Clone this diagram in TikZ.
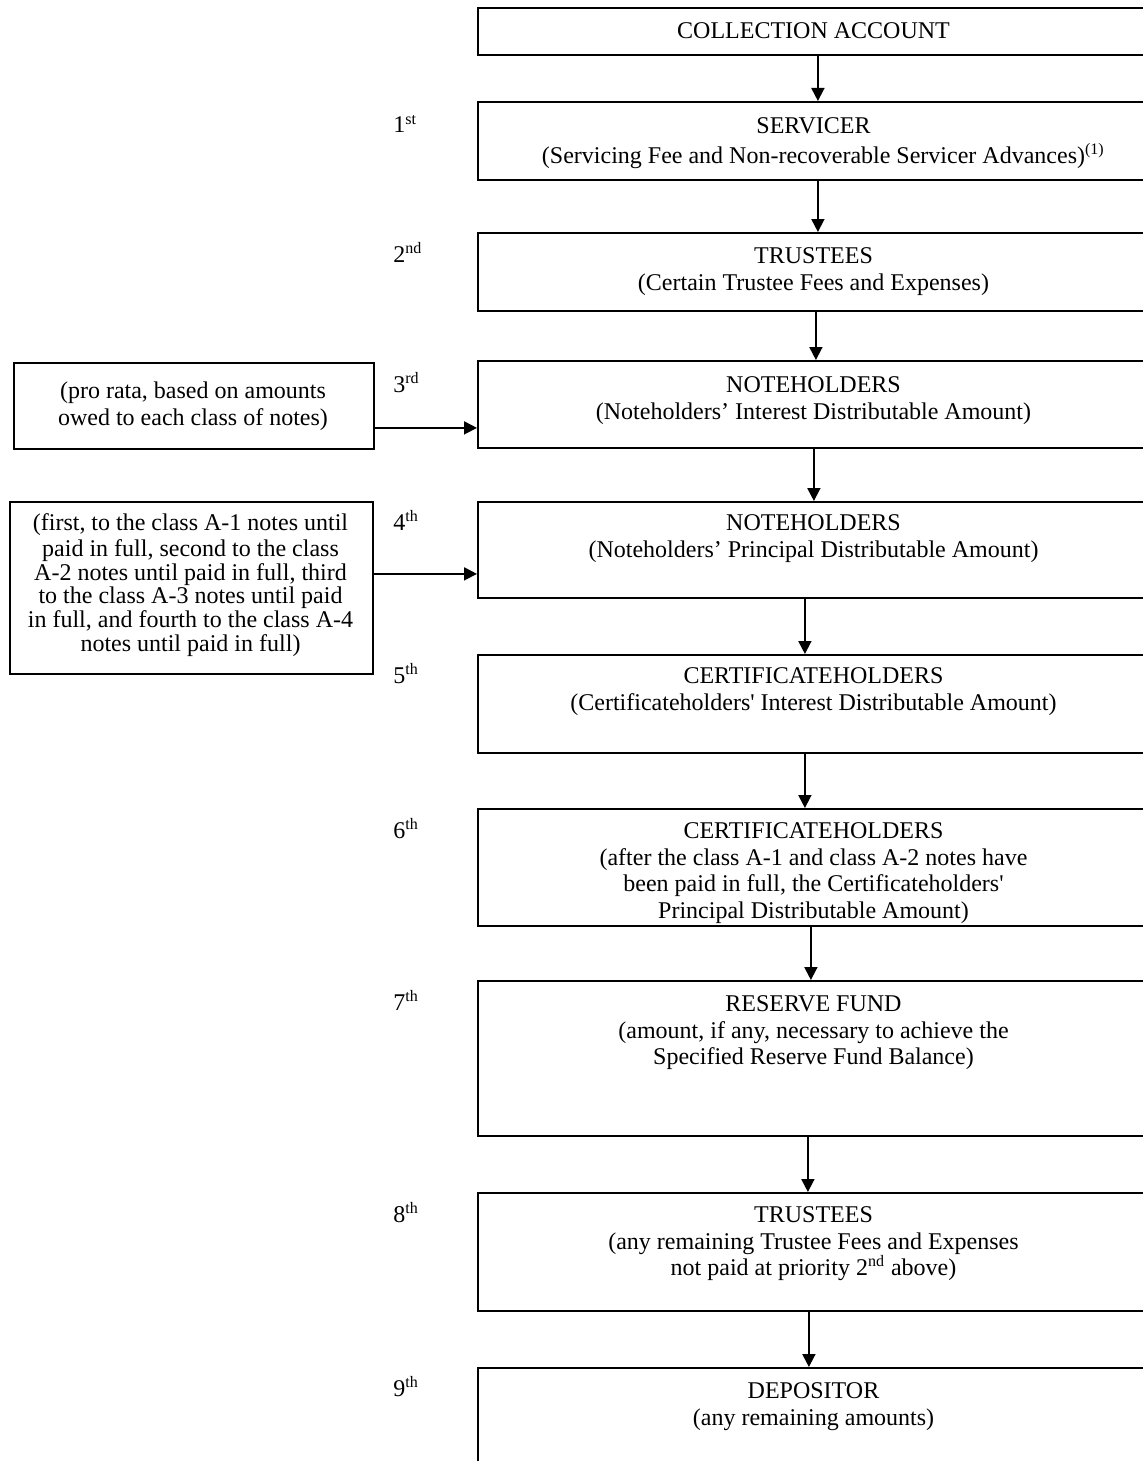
\documentclass[tikz,border=0pt]{standalone}
\usepackage{fontspec}
\setmainfont{Liberation Serif}[Ligatures=TeXOff]
\usetikzlibrary{arrows.meta}
\begin{document}
\begin{tikzpicture}[x=0.5pt,y=-0.5pt,
  box/.style={draw, line width=0.9pt, rectangle, inner sep=0pt, anchor=north west},
  mainbox/.style={box, minimum width=336.5pt},
  txt/.style={align=center, inner sep=0pt, anchor=north, font=\fontsize{12}{13.3}\selectfont},
  sidetxt/.style={align=center, inner sep=0pt, anchor=north, font=\fontsize{12}{11.8}\selectfont},
  arr/.style={line width=0.9pt, -{Triangle[length=6.5pt,width=6.5pt]}},
  ord/.style={anchor=base west, inner sep=0pt, font=\fontsize{12}{14}\selectfont}]

\fill[white] (0,0) rectangle (1143,1461);
\useasboundingbox (0,0) rectangle (1143,1461);
\clip (0,0) rectangle (1143,1461);

% main boxes
\node[mainbox, minimum height=23.5pt] (b0) at (477,7) {};
\node[mainbox, minimum height=39pt]   (b1) at (477,101) {};
\node[mainbox, minimum height=39pt]   (b2) at (477,232) {};
\node[mainbox, minimum height=43.5pt] (b3) at (477,360) {};
\node[mainbox, minimum height=48pt]   (b4) at (477,501) {};
\node[mainbox, minimum height=49pt]   (b5) at (477,654) {};
\node[mainbox, minimum height=58.5pt] (b6) at (477,808) {};
\node[mainbox, minimum height=77.5pt] (b7) at (477,980) {};
\node[mainbox, minimum height=59pt]   (b8) at (477,1192) {};
\node[mainbox, minimum height=66.5pt] (b9) at (477,1367) {};

% side boxes
\node[box, minimum width=180pt, minimum height=43pt] (lA) at (13,362) {};
\node[box, minimum width=181.5pt, minimum height=86pt] (lB) at (9,501) {};

% texts in main boxes
\node[txt] (t0) at (813.5,19.4) {\strut COLLECTION ACCOUNT};
\node[txt] (t1) at (813.5,114.4) {\strut SERVICER\\(Servicing Fee and Non-recoverable Servicer Advances)\rlap{\textsuperscript{(1)}}};
\node[txt] (t2) at (813.5,244.4) {\strut TRUSTEES\\(Certain Trustee Fees and Expenses)};
\node[txt] (t3) at (813.5,373.4) {\strut NOTEHOLDERS\\(Noteholders’ Interest Distributable Amount)};
\node[txt] (t4) at (813.5,511.4) {\strut NOTEHOLDERS\\(Noteholders’ Principal Distributable Amount)};
\node[txt] (t5) at (813.5,664.4) {\strut CERTIFICATEHOLDERS\\(Certificateholders' Interest Distributable Amount)};
\node[txt] (t6) at (813.5,819.4) {\strut CERTIFICATEHOLDERS\\(after the class A-1 and class A-2 notes have\\been paid in full, the Certificateholders'\\Principal Distributable Amount)};
\node[txt] (t7) at (813.5,992.4) {\strut RESERVE FUND\\(amount, if any, necessary to achieve the\\Specified Reserve Fund Balance)};
\node[txt] (t8) at (813.5,1203.4) {\strut TRUSTEES\\(any remaining Trustee Fees and Expenses\\not paid at priority 2\textsuperscript{nd} above)};
\node[txt] (t9) at (813.5,1379.4) {\strut DEPOSITOR\\(any remaining amounts)};

% texts in side boxes
\node[txt] (tA) at (193,379.4) {\strut (pro rata, based on amounts\\owed to each class of notes)};
\node[sidetxt] (tB) at (190.5,513.5) {\strut (first, to the class A-1 notes until\\paid in full, second to the class\\A-2 notes until paid in full, third\\to the class A-3 notes until paid\\in full, and fourth to the class A-4\\notes until paid in full)};

% ordinal labels
\node[ord] (o1) at (393,133) {1\textsuperscript{st}};
\node[ord] (o2) at (393,262) {2\textsuperscript{nd}};
\node[ord] (o3) at (393,392) {3\textsuperscript{rd}};
\node[ord] (o4) at (393,530) {4\textsuperscript{th}};
\node[ord] (o5) at (393,683) {5\textsuperscript{th}};
\node[ord] (o6) at (393,838) {6\textsuperscript{th}};
\node[ord] (o7) at (393,1010) {7\textsuperscript{th}};
\node[ord] (o8) at (393,1222) {8\textsuperscript{th}};
\node[ord] (o9) at (393,1396) {9\textsuperscript{th}};

% vertical connectors
\draw[arr] ([xshift=1.75pt]b0.south) -- ([xshift=1.75pt]b1.north);
\draw[arr] ([xshift=1.75pt]b1.south) -- ([xshift=1.75pt]b2.north);
\draw[arr] ([xshift=0.75pt]b2.south) -- ([xshift=0.75pt]b3.north);
\draw[arr] ([xshift=-0.25pt]b3.south) -- ([xshift=-0.25pt]b4.north);
\draw[arr] ([xshift=-4.75pt]b4.south) -- ([xshift=-4.75pt]b5.north);
\draw[arr] ([xshift=-4.75pt]b5.south) -- ([xshift=-4.75pt]b6.north);
\draw[arr] ([xshift=-1.75pt]b6.south) -- ([xshift=-1.75pt]b7.north);
\draw[arr] ([xshift=-3.25pt]b7.south) -- ([xshift=-3.25pt]b8.north);
\draw[arr] ([xshift=-2.75pt]b8.south) -- ([xshift=-2.75pt]b9.north);

% side connectors
\coordinate (pA) at ([yshift=-11pt]lA.east);
\coordinate (pB) at ([yshift=7pt]lB.east);
\draw[arr] (pA) -- (pA -| b3.west);
\draw[arr] (pB) -- (pB -| b4.west);
\end{tikzpicture}
\end{document}
